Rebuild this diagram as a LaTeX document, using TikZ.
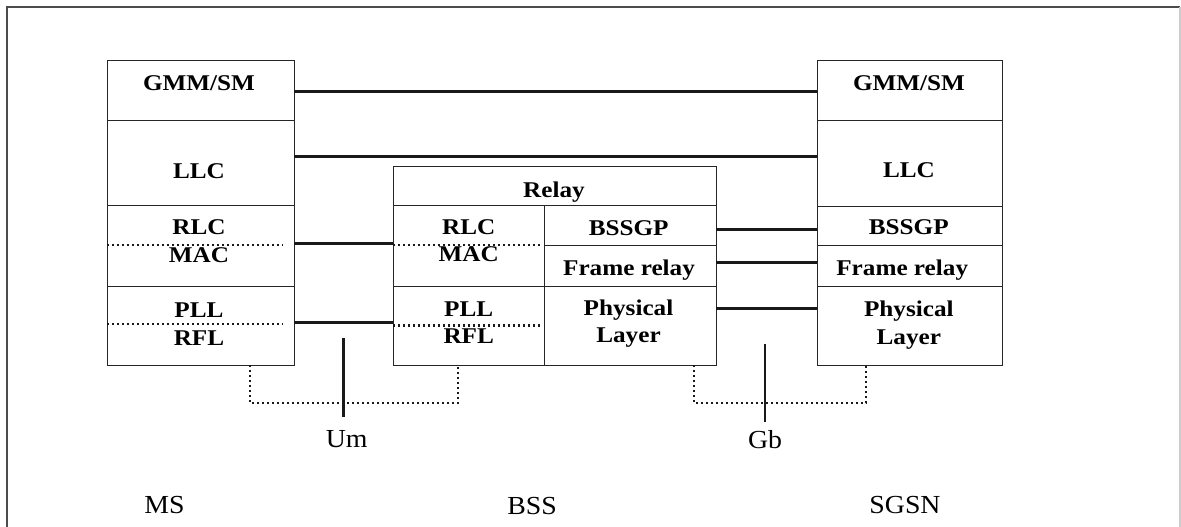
\documentclass[tikz,border=0pt]{standalone}
\usepackage{fontspec}
\setmainfont{Liberation Serif}
\newfontfamily\layerfont{Liberation Serif}[FakeStretch=1.12]
\newfontfamily\sitefont{Liberation Serif}[FakeStretch=1.07]

\begin{document}
\begin{tikzpicture}[x=1pt,y=-1pt,
  cell/.style={draw=black!85, line width=1pt, rectangle, inner sep=0pt, outer sep=0pt},
  lay/.style={font=\layerfont\bfseries\fontsize{22.5}{24}\selectfont, anchor=base, inner sep=0pt},
  site/.style={font=\sitefont\fontsize{26}{28}\selectfont, anchor=base, inner sep=0pt},
  peer/.style={line width=2.7pt, black!90},
  sep/.style={line width=2.4pt, black!90, dash pattern=on 2.2pt off 2.8pt}]
\useasboundingbox (0,0) rectangle (1181,527);

% page frame
\draw[black!70, line width=1.2pt] (7,527) -- (7,7) -- (1180,7);
\draw[black!20, line width=1.2pt] (1180,7) -- (1180,527);

% ---- MS stack ----
\node[cell, minimum width=187pt, minimum height=59pt]   (msgmm) at (200.5,90.5)  {};
\node[cell, minimum width=187pt, minimum height=85.5pt] (msllc) at (200.5,162.75) {};
\node[cell, minimum width=187pt, minimum height=80.5pt] (msrlc) at (200.5,245.75) {};
\node[cell, minimum width=187pt, minimum height=79pt]   (mspll) at (200.5,325.5) {};
\draw[sep] (msrlc.west |- 0,245) -- ++(176,0);
\draw[sep] (mspll.west |- 0,324) -- ++(176,0);
\node[lay] (t-msgmm) at (199,90.6)  {GMM/SM};
\node[lay] (t-msllc) at (199,178.1) {LLC};
\node[lay] (t-msrlc) at (199,234.8) {RLC};
\node[lay] (t-msmac) at (199,262.3) {MAC};
\node[lay] (t-mspll) at (199,317.3) {PLL};
\node[lay] (t-msrfl) at (199,345.1) {RFL};

% ---- BSS stack ----
\node[cell, minimum width=323pt, minimum height=39.5pt] (bssrelay) at (554.5,185.75) {};
\node[cell, minimum width=151pt, minimum height=80.5pt] (bssrlc) at (468.5,245.75) {};
\node[cell, minimum width=151pt, minimum height=79pt]   (bsspll) at (468.5,325.5) {};
\node[cell, minimum width=172pt, minimum height=40pt]   (bssgp)  at (630,225.5) {};
\node[cell, minimum width=172pt, minimum height=40.5pt] (bssfr)  at (630,265.75) {};
\node[cell, minimum width=172pt, minimum height=79pt]   (bssphy) at (630,325.5) {};
\draw[sep] (bssrlc.west |- 0,245) -- ++(149,0);
\draw[sep] (bsspll.west |- 0,325.5) -- ++(149,0);
\node[lay] (t-relay)  at (554,197.3) {Relay};
\node[lay] (t-bssrlc) at (468.7,234.8) {RLC};
\node[lay] (t-bssmac) at (468.7,261.8) {MAC};
\node[lay] (t-bsspll) at (468.7,316.1) {PLL};
\node[lay] (t-bssrfl) at (468.7,343.5) {RFL};
\node[lay] (t-bssgp)  at (628.7,235.5) {BSSGP};
\node[lay] (t-bssfr)  at (629,275.6)   {Frame relay};
\node[lay] (t-bssph1) at (628.5,315.6) {Physical};
\node[lay] (t-bssph2) at (628.5,342.8) {Layer};

% ---- SGSN stack ----
\node[cell, minimum width=185pt, minimum height=59.5pt] (sggmm)  at (909.5,90.75) {};
\node[cell, minimum width=185pt, minimum height=85.5pt] (sgllc)  at (909.5,163.25) {};
\node[cell, minimum width=185pt, minimum height=39.5pt] (sgbssgp) at (909.5,225.75) {};
\node[cell, minimum width=185pt, minimum height=40.5pt] (sgfr)   at (909.5,265.75) {};
\node[cell, minimum width=185pt, minimum height=79pt]   (sgphy)  at (909.5,325.5) {};
\node[lay] (t-sggmm)  at (909,90.1)   {GMM/SM};
\node[lay] (t-sgllc)  at (909,177.6)  {LLC};
\node[lay] (t-sgbssgp) at (908.8,234.8) {BSSGP};
\node[lay] (t-sgfr)   at (902.2,275.6) {Frame relay};
\node[lay] (t-sgph1)  at (908.8,316.8) {Physical};
\node[lay] (t-sgph2)  at (908.8,344)   {Layer};

% ---- peer-to-peer links ----
\draw[peer] (msgmm.east |- 0,91.7)  -- (sggmm.west |- 0,91.7);
\draw[peer] (msllc.east |- 0,156.7) -- (sgllc.west |- 0,156.7);
\draw[peer] (msrlc.east |- 0,243.5) -- (bssrlc.west |- 0,243.5);
\draw[peer] (mspll.east |- 0,322.7) -- (bsspll.west |- 0,322.7);
\draw[peer] (bssgp.east |- 0,229.3)  -- (sgbssgp.west |- 0,229.3);
\draw[peer] (bssfr.east |- 0,262.7)  -- (sgfr.west |- 0,262.7);
\draw[peer] (bssphy.east |- 0,308.3) -- (sgphy.west |- 0,308.3);

% ---- interfaces ----
\coordinate (umL) at (250,365);
\coordinate (umR) at (457.7,365);
\coordinate (gbL) at (694,365);
\coordinate (gbR) at (866,365);
\draw[sep] (umL) -- ++(0,38) -| (umR);
\draw[sep] (gbL) -- ++(0,38) -| (gbR);
\coordinate (umtop) at (343.3,338);
\coordinate (gbtop) at (765,344);
\draw[peer] (umtop) -- (umtop |- 0,417);
\draw[peer] (gbtop) -- (gbtop |- 0,421.7);
\node[site] (t-um) at (346.7,447.6) {Um};
\node[site] (t-gb) at (765,448.1)   {Gb};

% ---- network elements ----
\node[site] (t-ms)   at (164.5,513.9) {MS};
\node[site] (t-bss)  at (532,514)     {BSS};
\node[site] (t-sgsn) at (905,513.1)   {SGSN};
\end{tikzpicture}
\end{document}
